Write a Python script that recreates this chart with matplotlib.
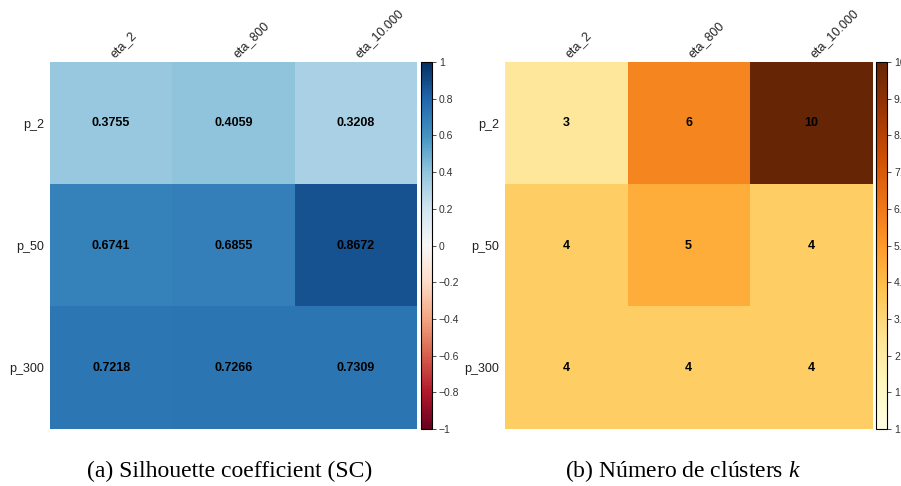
import matplotlib
matplotlib.use("Agg")
import matplotlib.pyplot as plt
import numpy as np

cols = ["eta_2", "eta_800", "eta_10.000"]
rows = ["p_2", "p_50", "p_300"]
sc_values = [[0.3755, 0.4059, 0.3208],
             [0.6741, 0.6855, 0.8672],
             [0.7218, 0.7266, 0.7309]]
k_values = [[3, 6, 10],
            [4, 5, 4],
            [4, 4, 4]]
sc_ticks = [1, 0.8, 0.6, 0.4, 0.2, 0, -0.2, -0.4, -0.6, -0.8, -1]
k_ticks = [10, 9.1, 8.2, 7.3, 6.4, 5.5, 4.6, 3.7, 2.8, 1.9, 1]
captions = ["(a) Silhouette coefficient (SC)", "(b) Número de clústers $k$"]

plt.rcParams['font.family'] = ['Liberation Sans', 'DejaVu Sans']
plt.rcParams['mathtext.fontset'] = 'custom'
plt.rcParams['mathtext.it'] = 'Liberation Serif:italic'
plt.rcParams['mathtext.rm'] = 'Liberation Serif'

fig = plt.figure(figsize=(9.01, 4.86), dpi=100)
W, H = 901, 486

def fx(px):
    return px / W

def fy(py):
    return 1 - py / H

def tick_text(t):
    s = str(int(t)) if float(t) == int(t) else str(t)
    return s.replace('-', '\u2212')

def draw(ax_rect, cax_rect, data, cmap, vmin, vmax, ticks, fmt, cap, capx):
    ax = fig.add_axes(ax_rect)
    arr = np.array(data, dtype=float)
    ax.imshow(arr, cmap=cmap, vmin=vmin, vmax=vmax, aspect='auto',
              interpolation='nearest')
    for i in range(arr.shape[0]):
        for j in range(arr.shape[1]):
            ax.text(j, i, fmt(data[i][j]), ha='center', va='center',
                    fontsize=9, fontweight='bold', color='black')
    ax.set_xticks(np.arange(len(cols)) + 0.03)
    ax.set_xticklabels(cols, rotation=45, ha='left', va='baseline',
                       rotation_mode='anchor', fontsize=9, color='#222222')
    ax.xaxis.tick_top()
    ax.set_yticks(range(len(rows)))
    ax.set_yticklabels(rows, fontsize=9, color='#222222')
    ax.tick_params(axis='x', length=0, pad=3)
    ax.tick_params(axis='y', length=0, pad=4)
    for s in ax.spines.values():
        s.set_visible(False)
    cax = fig.add_axes(cax_rect)
    sm = plt.cm.ScalarMappable(cmap=cmap, norm=plt.Normalize(vmin, vmax))
    cb = fig.colorbar(sm, cax=cax)
    cb.set_ticks(ticks)
    cb.set_ticklabels([tick_text(t) for t in ticks])
    cb.ax.tick_params(labelsize=7.5, length=3, width=0.6, pad=2, colors='#333333')
    cb.outline.set_linewidth(0.8)
    fig.text(capx, fy(471), cap, ha='center', va='center', fontsize=17,
             family='Liberation Serif')
    return ax

draw([fx(50), fy(429), fx(367), (429 - 62) / H],
     [fx(421), fy(429), fx(11), (429 - 62) / H],
     sc_values, 'RdBu', -1, 1, sc_ticks, lambda v: f"{v:.4f}",
     captions[0], fx(230))

draw([fx(505), fy(429), fx(367), (429 - 62) / H],
     [fx(876), fy(429), fx(11), (429 - 62) / H],
     k_values, 'YlOrBr', 1, 10, k_ticks, lambda v: f"{v}",
     captions[1], fx(683))

fig.savefig("out.png", dpi=100)
